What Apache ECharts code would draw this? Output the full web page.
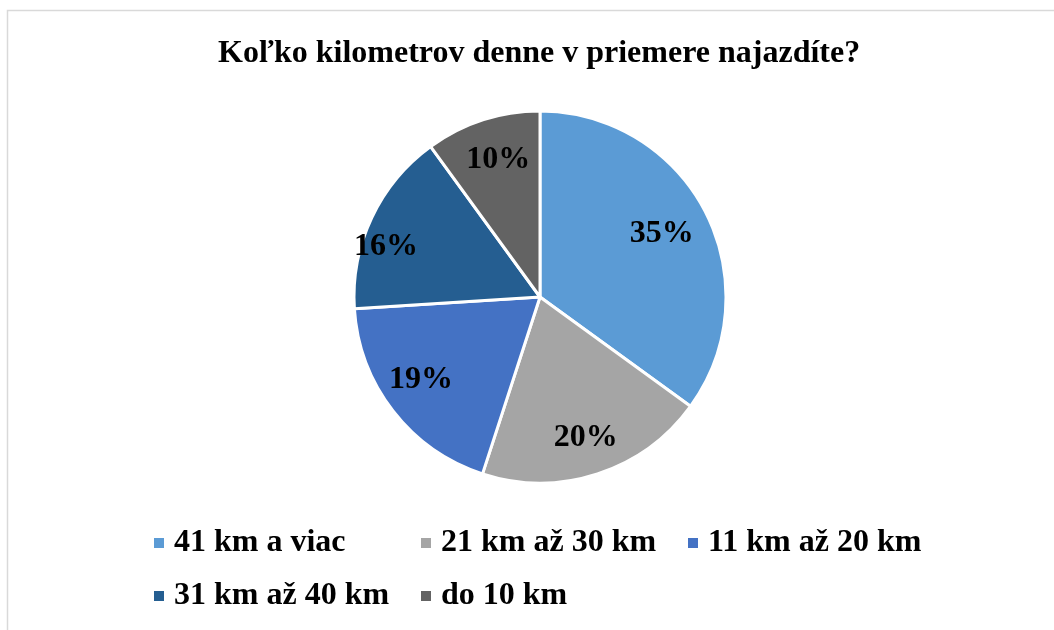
<!DOCTYPE html>
<html>
<head>
<meta charset="utf-8">
<script src="https://cdn.jsdelivr.net/npm/echarts@6/dist/echarts.min.js"></script>
<style>
  html, body { margin: 0; padding: 0; background: #fff; }
  #chart { width: 1054px; height: 630px; }
</style>
</head>
<body>
<div id="chart"></div>
<script>
var categories = ['41 km a viac', '21 km až 30 km', '11 km až 20 km', '31 km až 40 km', 'do 10 km'];
var values = [35, 20, 19, 16, 10];
var colors = ['#5b9bd5', '#a5a5a5', '#4472c4', '#255e91', '#636363'];

// legend slots, laid out like the original two rows
var legendLeft = [147, 414, 681, 147, 414];
var legendTop = [522, 522, 522, 575, 575];
// small nudges so labels sit where the original puts them
var labelNudge = [[-10, 4], [0, 0], [-2, -8], [-20, 13], [4, 3]];

var font = '"Liberation Serif", "Times New Roman", serif';

var data = categories.map(function (name, i) {
    return { name: name, value: values[i], itemStyle: { color: colors[i] } };
});

var legends = categories.map(function (name, i) {
    return {
        data: [name],
        left: legendLeft[i],
        top: legendTop[i],
        icon: 'rect',
        itemWidth: 12,
        itemHeight: 12,
        itemGap: 10,
        selectedMode: false,
        textStyle: { fontFamily: font, fontWeight: 'bold', fontSize: 32, color: '#000', padding: [0, 0, 0, 4] }
    };
});

var chart = echarts.init(document.getElementById('chart'));
var option = {
    animation: false,
    title: {
        text: 'Koľko kilometrov denne v priemere najazdíte?',
        left: 213,
        top: 33,
        textStyle: { fontFamily: font, fontWeight: 'bold', fontSize: 32, color: '#000' }
    },
    legend: legends,
    graphic: [{
        type: 'rect',
        shape: { x: 7.5, y: 10.5, width: 1100, height: 700 },
        style: { fill: 'none', stroke: '#d9d9d9', lineWidth: 1.5 },
        silent: true
    }],
    series: [
        {
            type: 'pie',
            center: [540, 297],
            radius: [0, 186],
            startAngle: 90,
            clockwise: true,
            label: { show: false },
            labelLine: { show: false },
            itemStyle: { borderColor: '#fff', borderWidth: 3 },
            emphasis: { disabled: true },
            data: data
        },
        {
            // transparent ring only used to place the percentage labels
            type: 'pie',
            center: [540, 297],
            radius: [104, 186],
            startAngle: 90,
            clockwise: true,
            silent: true,
            itemStyle: { color: 'rgba(0,0,0,0)' },
            label: {
                show: true,
                position: 'inside',
                formatter: '{c}%',
                fontFamily: font,
                fontWeight: 'bold',
                fontSize: 32,
                color: '#000'
            },
            labelLine: { show: false },
            emphasis: { disabled: true },
            data: categories.map(function (name, i) {
                return { name: name, value: values[i], label: { offset: labelNudge[i] } };
            })
        }
    ]
};
chart.setOption(option);
</script>
</body>
</html>
